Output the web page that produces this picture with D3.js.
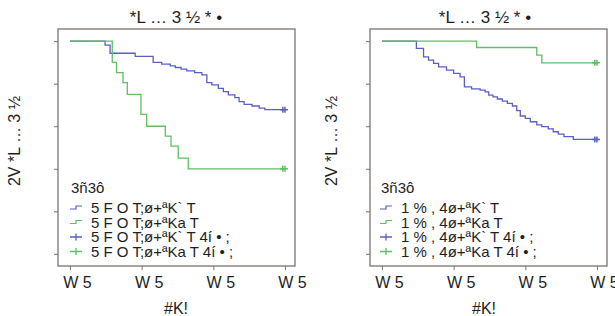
<!DOCTYPE html>
<html>
<head>
<meta charset="utf-8">
<script src="https://cdn.jsdelivr.net/npm/d3@7/dist/d3.min.js"></script>
<style>
  body { margin: 0; background: #fff; }
  text { font-family: "Liberation Sans", Arial, sans-serif; fill: #1e1e1e; }
</style>
</head>
<body>
<div id="app"></div>
<script>
let title = '*L … 3 ½ * •';
let yLabel = '2V *L … 3 ½';
let xLabel = '#K!';
let legendTitle = '3ñ3ô';
let xTicks = [0, 1, 2, 3];
let xTickLabels = ['W 5', 'W 5', 'W 5', 'W 5'];
let yTicks = [0, 0.2, 0.4, 0.6, 0.8, 1];

let leftLegend = ['5 F O T;ø+ªK` T', '5 F O T;ø+ªKa T', '5 F O T;ø+ªK` T  4í • ;', '5 F O T;ø+ªKa T  4í • ;'];
let rightLegend = ['1 % , 4ø+ªK` T', '1 % , 4ø+ªKa T', '1 % , 4ø+ªK` T  4í • ;', '1 % , 4ø+ªKa T  4í • ;'];

// left panel
let leftBlueTime = [0, 0.49, 0.56, 0.91, 1.16, 1.28, 1.40, 1.47, 1.55, 1.63, 1.74, 1.84, 1.91, 1.98, 2.07, 2.14, 2.21, 2.30, 2.36, 2.43, 2.54, 2.64, 2.72, 3.0];
let leftBlueSurv = [1, 0.981, 0.943, 0.928, 0.900, 0.892, 0.884, 0.876, 0.868, 0.860, 0.852, 0.841, 0.805, 0.794, 0.778, 0.763, 0.747, 0.734, 0.716, 0.703, 0.695, 0.685, 0.678, 0.678];
let leftGreenTime = [0, 0.59, 0.65, 0.74, 0.80, 0.99, 1.07, 1.33, 1.41, 1.51, 1.65, 3.0];
let leftGreenSurv = [1, 0.900, 0.852, 0.805, 0.750, 0.656, 0.600, 0.553, 0.506, 0.450, 0.400, 0.400];

// right panel
let rightBlueTime = [0, 0.48, 0.58, 0.65, 0.72, 0.79, 0.90, 1.00, 1.09, 1.15, 1.25, 1.37, 1.44, 1.49, 1.55, 1.61, 1.68, 1.75, 1.82, 1.88, 1.93, 2.00, 2.07, 2.16, 2.23, 2.32, 2.39, 2.46, 2.54, 2.67, 3.0];
let rightBlueSurv = [1, 0.966, 0.926, 0.911, 0.895, 0.879, 0.864, 0.848, 0.832, 0.785, 0.776, 0.770, 0.761, 0.746, 0.738, 0.728, 0.718, 0.707, 0.695, 0.673, 0.648, 0.637, 0.621, 0.606, 0.598, 0.588, 0.574, 0.563, 0.551, 0.538, 0.538];
let rightGreenTime = [0, 1.32, 2.16, 2.23, 3.0];
let rightGreenSurv = [1, 0.970, 0.934, 0.898, 0.898];

let censorTime = [2.97, 3.0];

let blue = '#5b5fc4';
let green = '#5fbf62';
let frameColor = '#7d746e';

let svg = d3.select('#app').append('svg')
    .attr('width', 615)
    .attr('height', 316)
    .style('background', '#fff');

let panels = [
  { range: [58, 295], legend: leftLegend, legendX: 70,
    curves: [[leftBlueTime, leftBlueSurv, blue], [leftGreenTime, leftGreenSurv, green]],
    titleX: 176, yLabelX: 14, xLabelX: 176 },
  { range: [370, 607], legend: rightLegend, legendX: 380,
    curves: [[rightBlueTime, rightBlueSurv, blue], [rightGreenTime, rightGreenSurv, green]],
    titleX: 485, yLabelX: 331, xLabelX: 484 }
];

let yScale = d3.scaleLinear()
               .domain([-0.057, 1.057])
               .range([266, 29]);

panels.forEach(function(p) {
  let xScale = d3.scaleLinear()
                 .domain([-0.167, 3.14])
                 .range(p.range);

  let g = svg.append('g');

  // frame
  g.append('rect')
    .attr('x', p.range[0])
    .attr('y', 29)
    .attr('width', p.range[1] - p.range[0])
    .attr('height', 237)
    .style('fill', 'none')
    .style('stroke', frameColor)
    .style('stroke-width', 1.3);

  // x axis
  let xAxis = d3.axisBottom(xScale)
                .tickValues(xTicks)
                .tickSize(4)
                .tickSizeOuter(0)
                .tickPadding(7)
                .tickFormat(function(d, i) { return xTickLabels[i]; });
  let xg = g.append('g')
    .attr('transform', 'translate(0, 266)')
    .call(xAxis);
  xg.select('.domain').remove();
  xg.selectAll('line').style('stroke', frameColor);
  xg.selectAll('text')
    .attr('dx', 7)
    .style('font-size', '16px')
    .style('font-family', '"Liberation Sans", Arial, sans-serif')
    .style('fill', '#1e1e1e');

  // y axis, no labels
  let yAxis = d3.axisLeft(yScale)
                .tickValues(yTicks)
                .tickSize(4)
                .tickSizeOuter(0)
                .tickFormat('');
  let yg = g.append('g')
    .attr('transform', `translate(${p.range[0]}, 0)`)
    .call(yAxis);
  yg.select('.domain').remove();
  yg.selectAll('line').style('stroke', frameColor);

  // survival curves
  let line = d3.line()
               .x(function(d) { return xScale(d[0]); })
               .y(function(d) { return yScale(d[1]); })
               .curve(d3.curveStepAfter);

  p.curves.forEach(function(c) {
    let pts = c[0].map(function(t, i) { return [t, c[1][i]]; });
    g.append('path')
      .attr('d', line(pts))
      .style('fill', 'none')
      .style('stroke', c[2])
      .style('stroke-width', 1.3);

    let last = c[1][c[1].length - 1];
    censorTime.forEach(function(t) {
      let cx = xScale(t), cy = yScale(last);
      g.append('path')
        .attr('d', `M${cx - 3},${cy}H${cx + 3}M${cx},${cy - 3}V${cy + 3}`)
        .style('stroke', c[2])
        .style('stroke-width', 1.5);
    });
  });

  // titles
  g.append('text')
    .attr('x', p.titleX)
    .attr('y', 23)
    .attr('text-anchor', 'middle')
    .style('font-size', '17px')
    .text(title);

  g.append('text')
    .attr('transform', `translate(${p.yLabelX + 6}, 141) rotate(-90)`)
    .attr('text-anchor', 'middle')
    .style('font-size', '16px')
    .text(yLabel);

  g.append('text')
    .attr('x', p.xLabelX)
    .attr('y', 314)
    .attr('text-anchor', 'middle')
    .style('font-size', '16px')
    .text(xLabel);

  // legend
  let lx = p.legendX;
  g.append('text')
    .attr('x', lx + 1)
    .attr('y', 193)
    .style('font-size', '15px')
    .text(legendTitle);

  let colors = [blue, green, blue, green];
  p.legend.forEach(function(label, i) {
    let ly = 208 + i * 14.5;
    if (i < 2) {
      g.append('path')
        .attr('d', `M${lx},${ly + 1}H${lx + 6}V${ly - 2}H${lx + 12}`)
        .style('fill', 'none')
        .style('stroke', colors[i])
        .style('stroke-width', 1.2);
    } else {
      g.append('path')
        .attr('d', `M${lx},${ly}H${lx + 12}M${lx + 6},${ly - 3.5}V${ly + 3.5}`)
        .style('fill', 'none')
        .style('stroke', colors[i])
        .style('stroke-width', 1.3);
    }
    g.append('text')
      .attr('x', lx + 21)
      .attr('y', ly + 5)
      .style('font-size', '15px')
      .text(label);
  });
});
</script>
</body>
</html>
